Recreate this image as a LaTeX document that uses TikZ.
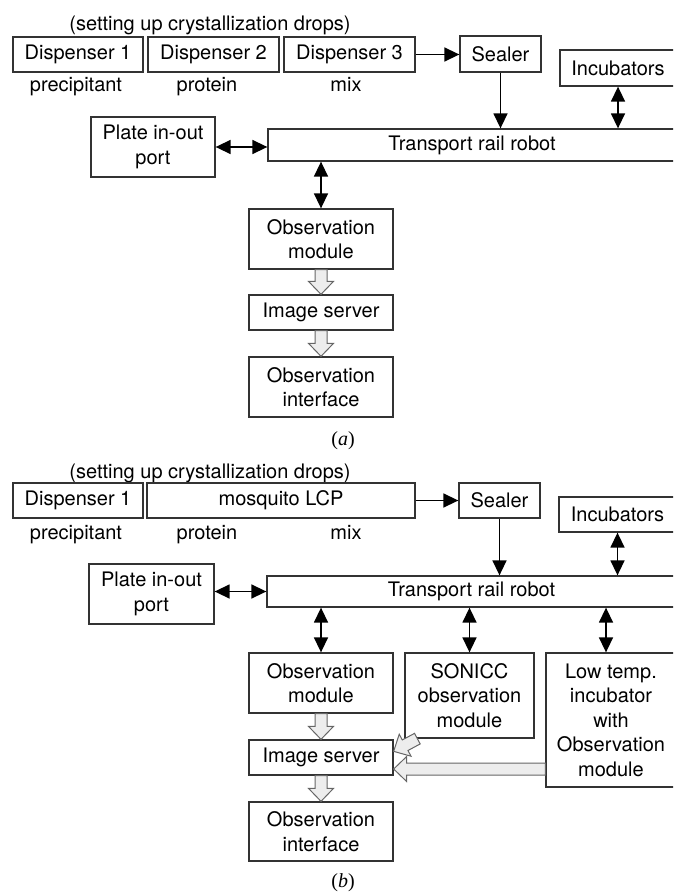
\documentclass[tikz,border=0pt]{standalone}
\usepackage{fontspec}
\setmainfont{TeX Gyre Heros}
\newfontfamily\capfont{Liberation Serif}
\usetikzlibrary{arrows.meta,calc}

\tikzset{
  box/.style={draw=black!80, line width=1.3pt, align=center, inner sep=0pt},
  wh/.style 2 args={minimum width=#1, minimum height=#2},
  arr/.style={line width=1.5pt, -{Triangle[length=15pt,width=14pt]}},
  darr/.style={line width=1.5pt, {Triangle[length=15pt,width=14pt]}-{Triangle[length=15pt,width=14pt]}},
  fat/.style={draw=black!60, fill=black!7, line width=1pt, line join=miter},
}

% wide hollow arrow from #1 to #2
\newcommand{\fatarrow}[2]{%
  \draw[fat] let \p1=(#1), \p2=(#2),
    \n1={atan2(\y2-\y1,\x2-\x1)}, \n2={veclen(\x2-\x1,\y2-\y1)} in
    [shift={(\p1)}, rotate=\n1]
    (0pt,6pt) -- ({\n2-13pt},6pt) -- ({\n2-13pt},12.5pt) -- (\n2,0pt)
    -- ({\n2-13pt},-12.5pt) -- ({\n2-13pt},-6pt) -- (0pt,-6pt) -- cycle;}

\begin{document}
\begin{tikzpicture}[x=1pt, y=-1pt, every node/.style={font=\fontsize{20}{24.5}\selectfont}]
\clip (0,0) rectangle (673,893);

%% (a) three dispensers
\node[anchor=base] (noteA) at (210,31) {(setting up crystallization drops)};
\node[box, wh={130}{35}] (dispA1) at (78,54.5) {Dispenser 1};
\node[box, wh={131}{35}] (dispA2) at (213.5,54.5) {Dispenser 2};
\node[box, wh={131}{35}] (dispA3) at (349.5,54.5) {Dispenser 3};
\node[anchor=base] (precA) at (76,92) {precipitant};
\node[anchor=base] (protA) at (207,92) {protein};
\node[anchor=base] (mixA) at (346,92) {mix};
\node[box, wh={81}{36}] (sealA) at (500.5,54) {Sealer};
\node[box, wh={116}{36}] (incA) at (618,68) {Incubators};
\node[box, wh={124}{60}] (portA) at (153,147) {Plate in-out\\port};
\node[box, wh={408}{32}] (railA) at (472,145) {Transport rail robot};
\node[box, wh={144}{60}] (obsA) at (321,239) {Observation\\module};
\node[box, wh={144}{35}] (srvA) at (321,312.5) {Image server};
\node[box, wh={144}{60}] (uiA) at (321,387) {Observation\\interface};
\node (capA) at (343,441) {\capfont(\textit{a})};

\draw[arr] (dispA3.east) -- (sealA.west |- dispA3.east);
\draw[arr] (sealA.south) -- (sealA.south |- railA.north);
\draw[darr] (incA.south) -- (incA.south |- railA.north);
\draw[darr] (portA.east) -- (portA.east -| railA.west);
\draw[darr] (obsA.north |- railA.south) -- (obsA.north);
\fatarrow{obsA.south}{srvA.north}
\fatarrow{srvA.south}{uiA.north}

%% (b) with mosquito LCP and SONICC
\node[anchor=base] (noteB) at (210,478) {(setting up crystallization drops)};
\node[box, wh={130}{35}] (dispB1) at (78,500.5) {Dispenser 1};
\node[box, wh={268}{35}] (mosqB) at (281,500.5) {mosquito LCP};
\node[anchor=base] (precB) at (76,539) {precipitant};
\node[anchor=base] (protB) at (207,539) {protein};
\node[anchor=base] (mixB) at (346,539) {mix};
\node[box, wh={81}{35}] (sealB) at (499.5,500.5) {Sealer};
\node[box, wh={117}{35}] (incB) at (617.5,514.5) {Incubators};
\node[box, wh={125}{60}] (portB) at (151.5,594) {Plate in-out\\port};
\node[box, wh={409}{31}] (railB) at (471.5,591.5) {Transport rail robot};
\node[box, wh={144}{60}] (obsB) at (321,683) {Observation\\module};
\node[box, wh={129}{85}] (sonB) at (469.5,695.5) {SONICC\\observation\\module};
\node[box, wh={130}{134}] (lowB) at (611,720) {Low temp.\\incubator\\with\\Observation\\module};
\node[box, wh={144}{35}] (srvB) at (321,757.5) {Image server};
\node[box, wh={144}{59}] (uiB) at (321,831.5) {Observation\\interface};
\node (capB) at (343,883) {\capfont(\textit{b})};

\draw[arr] (mosqB.east) -- (sealB.west |- mosqB.east);
\draw[arr] (sealB.south) -- (sealB.south |- railB.north);
\draw[darr] (incB.south) -- (incB.south |- railB.north);
\draw[darr] (portB.east |- railB.west) -- (railB.west);
\draw[darr] (obsB.north |- railB.south) -- (obsB.north);
\draw[darr] (sonB.north |- railB.south) -- (sonB.north);
\draw[darr] ([xshift=-5pt]lowB.north |- railB.south) -- ([xshift=-5pt]lowB.north);
\fatarrow{obsB.south}{srvB.north}
\fatarrow{$(sonB.south west)+(13,0)$}{$(srvB.north east)+(0,12)$}
\fatarrow{$(lowB.west |- srvB.east)+(0,11.5)$}{$(srvB.east)+(0,11.5)$}
\fatarrow{srvB.south}{uiB.north}
\end{tikzpicture}
\end{document}
